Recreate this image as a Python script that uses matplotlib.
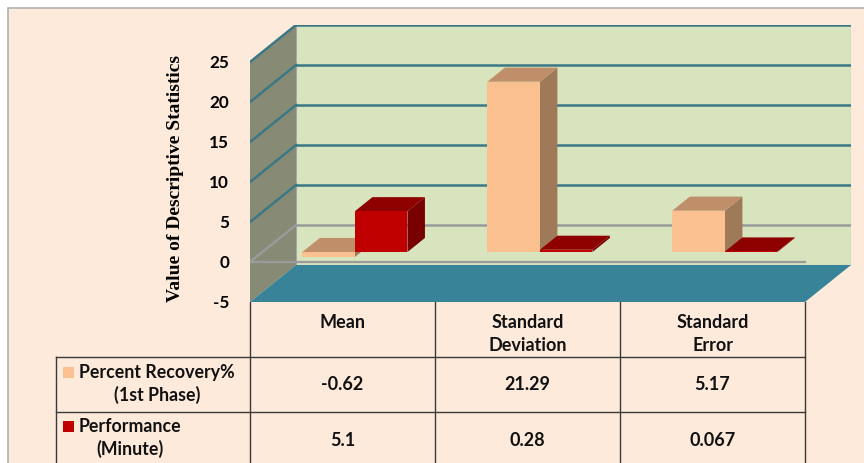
import numpy as np
import matplotlib.pyplot as plt
from matplotlib.patches import Polygon, Rectangle

categories = ['Mean', 'Standard\nDeviation', 'Standard\nError']
series_names = ['Percent Recovery%\n(1st Phase)', 'Performance\n(Minute)']
recovery = [-0.62, 21.29, 5.17]
performance = [5.1, 0.28, 0.067]
recovery_txt = ['-0.62', '21.29', '5.17']
performance_txt = ['5.1', '0.28', '0.067']
yticks = [-5, 0, 5, 10, 15, 20, 25]

# face colours: front, top, side
bar_cols = [('#FAC090', '#BF8F6A', '#9F7A59'),
            ('#C00000', '#8E0000', '#780000')]

DX, DY = 0.2486, 4.625   # oblique depth offset (category units, value units)
D0, D1 = 0.27, 0.65      # bar depth range
W = 0.284                # bar width

fig = plt.figure(figsize=(8.64, 4.63), dpi=100, facecolor='white')

ov = fig.add_axes([0, 0, 1, 1])
ov.set_xlim(0, 864)
ov.set_ylim(463, 0)
ov.axis('off')
ov.add_patch(Rectangle((8, 8), 900, 500, facecolor='#FDEADB', edgecolor='#B0B0B0', lw=1.2))

ax = fig.add_axes([250 / 864, 1 - 302 / 463, 601 / 864, 277 / 463])
ax.set_xlim(0, 3 + DX)
ax.set_ylim(-5, 25 + DY)
ax.patch.set_alpha(0)
for s in ax.spines.values():
    s.set_visible(False)
ax.set_xticks([])
ax.set_yticks(yticks)
ax.set_yticklabels([str(t) for t in yticks], fontfamily='Lato', fontweight='bold', fontsize=12.3)
ax.tick_params(axis='y', length=0, pad=15)


def P(c, v, d):
    return (c + d * DX, v + d * DY)


def poly(pts, fc, z, ec='none', lw=0):
    ax.add_patch(Polygon(pts, closed=True, facecolor=fc, edgecolor=ec, lw=lw, zorder=z))


# walls and floor
poly([P(0, -5, 1), P(3, -5, 1), P(3, 25, 1), P(0, 25, 1)], '#D7E4BD', 1, ec='#A8A8A8', lw=0.8)
poly([P(0, -5, 0), P(0, -5, 1), P(0, 25, 1), P(0, 25, 0)], '#878B75', 1)
poly([P(0, -5, 0), P(3, -5, 0), P(3, -5, 1), P(0, -5, 1)], '#388397', 2)

for v in yticks[1:]:
    col = '#9A9A9A' if v == 0 else '#3B7886'
    xs, ys = zip(P(0, v, 1), P(3, v, 1))
    ax.plot(xs, ys, color=col, lw=1.8, zorder=1.5)
    xs, ys = zip(P(0, v, 0), P(0, v, 1))
    ax.plot(xs, ys, color=col, lw=1.8, zorder=1.5)
xs, ys = zip(P(0, 0, 0), P(3, 0, 0))
ax.plot(xs, ys, color='#9A9A9A', lw=1.6, zorder=2.5)

# 3d bars
z = 3
for i in range(len(categories)):
    for s, vals in enumerate([recovery, performance]):
        v = vals[i]
        x0 = i + 0.5 - W if s == 0 else i + 0.5
        x1 = x0 + W
        lo, hi = min(0, v), max(0, v)
        front, top, side = bar_cols[s]
        poly([P(x1, lo, D0), P(x1, lo, D1), P(x1, hi, D1), P(x1, hi, D0)], side, z)
        poly([P(x0, hi, D0), P(x1, hi, D0), P(x1, hi, D1), P(x0, hi, D1)], top, z + 0.1)
        poly([P(x0, lo, D0), P(x1, lo, D0), P(x1, hi, D0), P(x0, hi, D0)], front, z + 0.2)
        z += 1

ov.text(175, 179, 'Value of Descriptive Statistics', rotation=90, ha='center', va='center',
        fontfamily='Liberation Serif', fontweight='bold', fontsize=14)

# data table
fig.canvas.draw()
col_x = [ax.transData.transform((c, 0))[0] for c in range(4)]
lc = '#3A3A3A'
for x in col_x:
    ov.plot([x, x], [302, 463], color=lc, lw=1)
ov.plot([56, 56], [357, 463], color=lc, lw=1)
for y in [357, 412]:
    ov.plot([56, col_x[-1]], [y, y], color=lc, lw=1)

tf = dict(fontfamily='Lato', fontweight='bold', fontsize=13, color='#111111')
for i, cat in enumerate(categories):
    cx = (col_x[i] + col_x[i + 1]) / 2
    ov.text(cx, 314, cat, ha='center', va='top', linespacing=1.4, **tf)
    ov.text(cx, 385, recovery_txt[i], ha='center', va='center', **tf)
    ov.text(cx, 440, performance_txt[i], ha='center', va='center', **tf)

for r, name in enumerate(series_names):
    yc = 384 + r * 54
    ov.add_patch(Rectangle((63, yc - 17), 11, 11, facecolor=bar_cols[r][0], edgecolor='none'))
    ov.text(79, yc, name, ha='left', va='center', multialignment='center', linespacing=1.3,
            fontfamily='Lato', fontweight='bold', fontsize=12.8, color='#111111')

fig.savefig('out.png', dpi=100, facecolor=fig.get_facecolor())
